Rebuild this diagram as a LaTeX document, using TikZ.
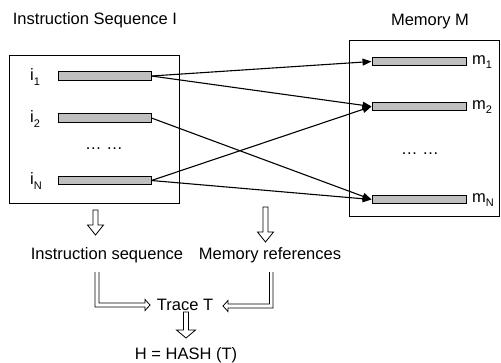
\documentclass[tikz,border=0pt]{standalone}
\usepackage{fontspec}
\setmainfont{Liberation Sans}
\usetikzlibrary{arrows.meta}
\newcommand{\lowidx}[1]{\raisebox{-4.5pt}{\fontsize{11}{11}\selectfont #1}}
% hollow down arrow: x, top, head top, tip, half head width
\newcommand{\hollowdown}[5]{%
  \draw[outline] (#1-2.5,#2) -- (#1+2.5,#2) -- (#1+2.5,#3) -- (#1+#5,#3)
    -- (#1,#4) -- (#1-#5,#3) -- (#1-2.5,#3) -- cycle;}

\begin{document}
\begin{tikzpicture}
  [x=1pt,y=-1pt,every node/.style={font=\fontsize{16.5}{19}\selectfont},
   box/.style={draw,line width=0.9pt,inner sep=0pt},
   cell/.style={draw,fill=black!25,line width=0.9pt,minimum width=93pt,minimum height=8.5pt,inner sep=0pt},
   link/.style={line width=1.1pt,-{Triangle[length=9pt,width=7pt]}},
   outline/.style={line width=0.8pt,line join=miter,fill=white}]
  \useasboundingbox (0,0) rectangle (501,362);

  % instruction side
  \node (ititle) at (95,20) {Instruction Sequence I};
  \node[box,minimum width=170pt,minimum height=148pt] (lbox) at (94,129) {};
  \node[cell] (i1) at (104.5,76) {};
  \node[cell] (i2) at (104.5,118) {};
  \node[cell] (iN) at (104.5,180.5) {};
  \node (li1) at (35,77) {i\lowidx{1}};
  \node (li2) at (35,119) {i\lowidx{2}};
  \node (liN) at (36,181) {i\lowidx{N}};
  \node (ldots) at (104,149) {\dots\ \dots};

  % memory side
  \node (mtitle) at (430,22) {Memory M};
  \node[box,minimum width=150.5pt,minimum height=176pt] (rbox) at (424.5,128) {};
  \node[cell,minimum width=94pt] (m1) at (419,61.5) {};
  \node[cell,minimum width=94pt] (m2) at (419,106.5) {};
  \node[cell,minimum width=94pt] (mN) at (419,199.5) {};
  \node (lm1) at (482,62) {m\lowidx{1}};
  \node (lm2) at (482,107) {m\lowidx{2}};
  \node (lmN) at (483,200) {m\lowidx{N}};
  \node (rdots) at (420,154) {\dots\ \dots};

  \foreach \from/\to in {i1/m1,i1/m2,i2/mN,iN/m2,iN/mN}
    \draw[link] (\from.east) -- (\to.west);

  % trace and hash
  \node (iseq) at (107,255) {Instruction sequence};
  \node (mref) at (270,255) {Memory references};
  \node (trace) at (185,305) {Trace T};
  \node (hash) at (186,355) {H = HASH (T)};

  \hollowdown{95.5}{210}{225}{235}{8}
  \hollowdown{265.5}{207}{232}{242}{8}
  \hollowdown{186}{312}{330}{338}{9.5}
  \draw[outline,fill=none] (95,272) -- (95,307) -- (145,307) -- (145,310.5) -- (150,305)
    -- (145,299.5) -- (145,303) -- (99,303) -- (99,272);
  \draw[outline,fill=none] (273,272) -- (273,308) -- (228,308) -- (228,311.5) -- (223,306)
    -- (228,300.5) -- (228,304) -- (269.5,304) -- (269.5,272);
\end{tikzpicture}
\end{document}
